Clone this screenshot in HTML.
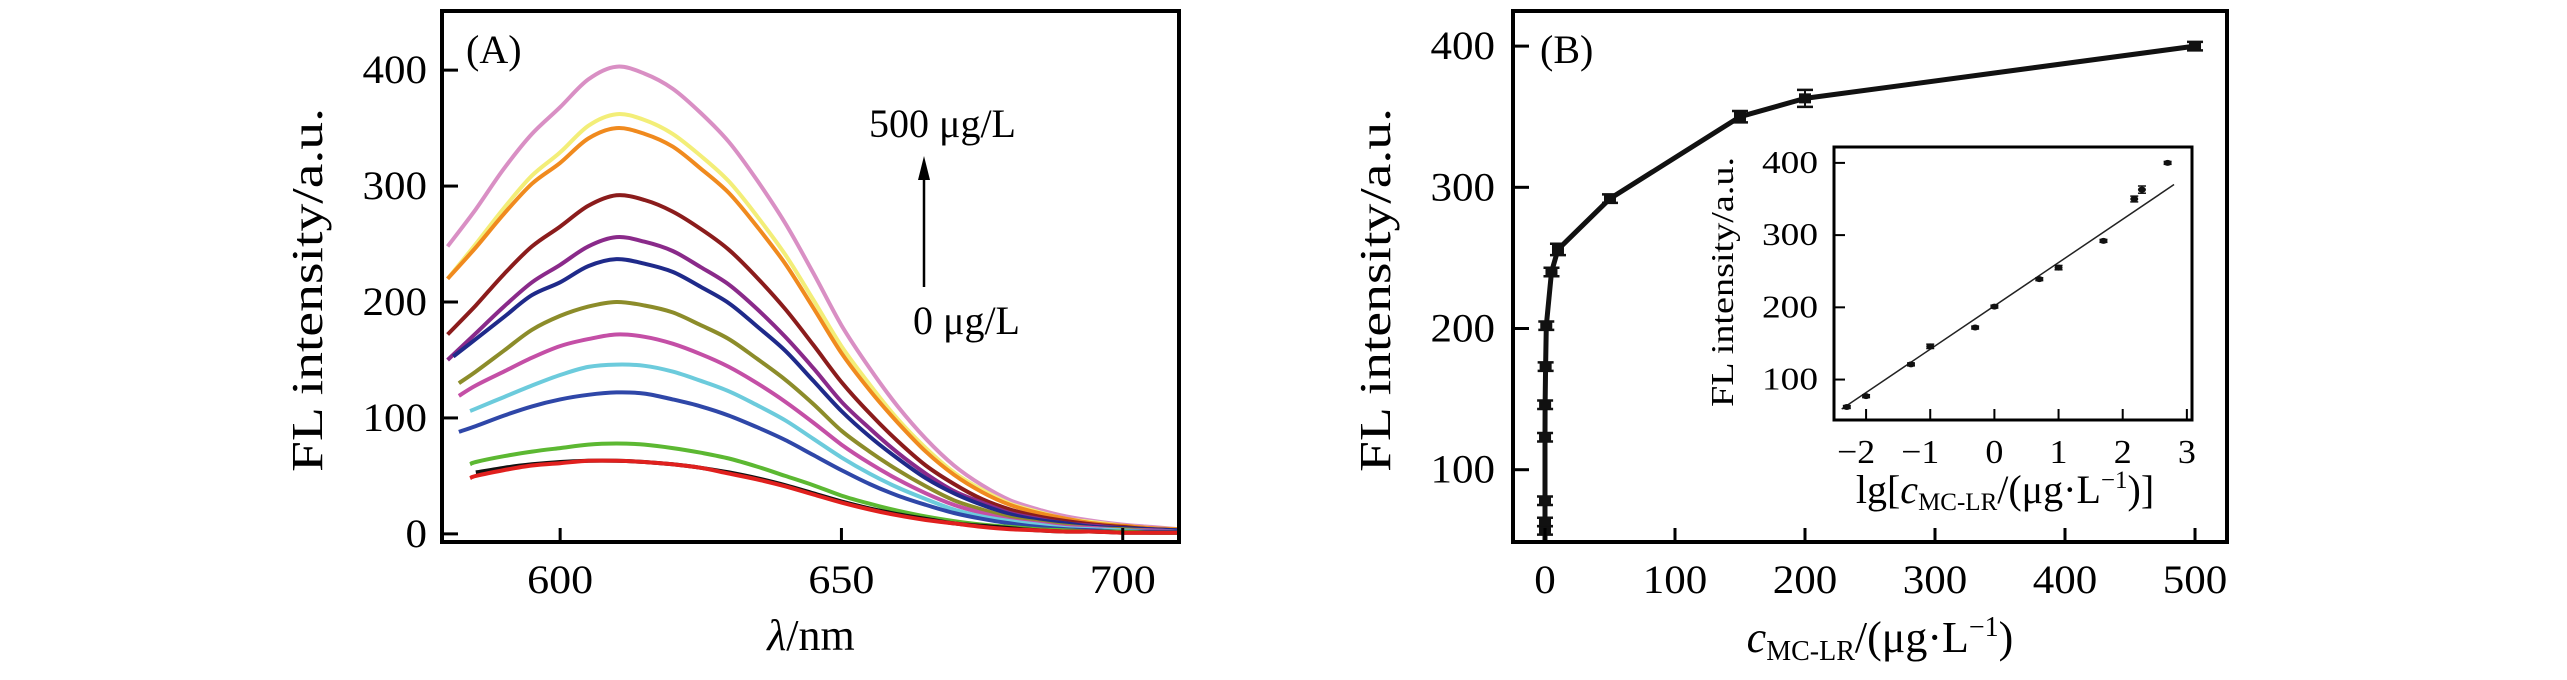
<!DOCTYPE html>
<html><head><meta charset="utf-8"><style>
html,body{margin:0;padding:0;background:#fff;}
svg{display:block;font-family:"Liberation Serif",serif;}
</style></head><body>
<svg id="chart" width="2567" height="680" viewBox="0 0 2567 680" xmlns="http://www.w3.org/2000/svg">
<rect width="2567" height="680" fill="#fff"/>
<g id="panelA"></g>
<g id="panelB"></g>
</svg>
<script>
// ---------- Panel A data ----------
const gridWaves = [585,590,595,600,605,610,615,620,625,630,635,640,645,650,655,660,665,670,675,680,685,690,695,700,705,710];
const curveNames = ["500","yellow","orange","brown","purple","navy","olive","magenta","cyan","blue","green","black","red"];
const curveColors = ["#d98fc4","#f3ee78","#f08a1e","#8b1c1c","#8a2a8a","#1f2a8a","#8c8c2a","#c44fa6","#6ccbdc","#2f47a8","#5cb832","#111111","#e0201e"];
const startWave = [580,580,580,580,580,581,582,582,584,582,584,585,584];
const startVal = [248,220,220,172,150,153,130,119,106,88,60,53,48];
const sPink = [280,315,345,368,392,403,397,384,363,338,305,268,225,180,143,110,82,59,42,29,21,15,11,8,6,4];
const sYellow = [250,281,309,329,352,362,357,345,326,304,274,241,202,162,129,99,74,53,38,26,19,13,10,7,5,4];
const sOrange = [247,276,302,320,341,350,345,334,315,294,265,233,195,156,124,96,71,51,36,25,18,13,9,7,5,4];
const sBrown = [197,224,248,265,283,292,288,278,263,245,221,194,163,131,104,80,59,43,30,21,15,11,8,6,4,3];
const sPurple = [173,196,217,232,248,256,252,244,230,215,194,170,143,114,91,70,52,37,27,18,13,9,7,5,4,3];
const sNavy = [168,187,206,217,231,237,233,226,213,199,179,158,132,106,84,65,48,35,25,17,12,9,6,5,4,3];
const sOlive = [140,158,176,188,196,200,197,191,180,168,151,133,112,89,71,55,41,29,21,14,10,7,5,4,3,2];
const sMagenta = [128,140,152,162,168,172,170,164,155,144,130,114,96,77,61,47,35,25,18,12,9,6,5,3,3,2];
const sCyan = [108,118,128,137,144,146,145,140,132,123,111,98,82,66,52,40,30,21,15,11,8,5,4,3,2,2];
const sBlue = [93,102,110,116,120,122,121,116,110,102,92,81,68,55,43,33,25,18,13,9,6,4,3,2,2,2];
const sGreen = [62,67,71,74,77,78,77,74,70,65,58,50,42,33,26,20,15,11,8,6,4,3,2,2,1,1];
const sBlack = [53,57,60,62,63,63,62,60,57,53,48,42,35,28,22,17,13,9,7,5,3,2,2,1,1,1];
const sRed = [50,55,59,61,63,63,62,60,57,52,47,41,34,27,21,16,12,9,6,4,3,2,2,1,1,1];
const seriesA = [sPink,sYellow,sOrange,sBrown,sPurple,sNavy,sOlive,sMagenta,sCyan,sBlue,sGreen,sBlack,sRed];
const ticksAX = [600,650,700];
const ticksAY = [0,100,200,300,400];

// ---------- Panel B data ----------
const concB = [0,0.005,0.01,0.05,0.1,0.5,1,5,10,50,150,200,500];
const flB = [57,63,78,123,146,173,202,240,256,292,350,363,400];
const errB = [3,3,3,3,3,3,3,3,4,3,4,6,3];
const ticksBX = [0,100,200,300,400,500];
const ticksBY = [100,200,300,400];
const logC = [-2.3,-2,-1.3,-1,-0.3,0,0.7,1,1.7,2.18,2.3,2.7];
const flInset = [62,77,121,146,172,201,239,255,292,350,363,400];
const errInset = [2,2,2,3,2,2,2,3,2,4,5,2];
const fitSlope = 60;
const fitIntercept = 202;
const fitRange = [-2.38,2.8];
const ticksIX = [-2,-1,0,1,2,3];
const ticksIY = [100,200,300,400];

const NS = "http://www.w3.org/2000/svg";
function mk(parent, tag, attrs, text){
  const e = document.createElementNS(NS, tag);
  for (const k in attrs) e.setAttribute(k, attrs[k]);
  if (text !== undefined) e.textContent = text;
  parent.appendChild(e);
  return e;
}
function lin(d0,d1,r0,r1){return v => r0 + (v-d0)/(d1-d0)*(r1-r0);}
function smoothPath(pts){
  let d = "M"+pts[0][0].toFixed(1)+","+pts[0][1].toFixed(1);
  for (let i=0;i<pts.length-1;i++){
    const p0 = pts[i>0?i-1:i], p1 = pts[i], p2 = pts[i+1], p3 = pts[i+2<pts.length?i+2:i+1];
    const c1x = p1[0]+(p2[0]-p0[0])/6, c1y = p1[1]+(p2[1]-p0[1])/6;
    const c2x = p2[0]-(p3[0]-p1[0])/6, c2y = p2[1]-(p3[1]-p1[1])/6;
    d += " C"+c1x.toFixed(1)+","+c1y.toFixed(1)+" "+c2x.toFixed(1)+","+c2y.toFixed(1)+" "+p2[0].toFixed(1)+","+p2[1].toFixed(1);
  }
  return d;
}

// ===== Panel A =====
const A = document.getElementById('panelA');
const ax = lin(579,710,442,1179);
const ay = lin(-7,451,542,11);
seriesA.forEach((s,i)=>{
  const pts = [[ax(startWave[i]), ay(startVal[i])]];
  s.forEach((v,j)=>{ if (gridWaves[j] > startWave[i]) pts.push([ax(gridWaves[j]), ay(v)]); });
  const p = mk(A,'path',{d:smoothPath(pts),fill:'none',stroke:curveColors[i],'stroke-width':4,'stroke-linejoin':'round'});
  
  
});
let fA = mk(A,'rect',{x:442,y:11,width:737,height:531,fill:'none',stroke:'#000','stroke-width':4});


ticksAX.forEach(t=>{
  const x = ax(t);
  const l = mk(A,'line',{x1:x,y1:542,x2:x,y2:528,stroke:'#000','stroke-width':3});
  
  
  const tx = mk(A,'text',{x:x,y:593,'font-size':40,'text-anchor':'middle',textLength:66,lengthAdjust:'spacingAndGlyphs'},String(t));
  
  
});
ticksAY.forEach(t=>{
  const y = ay(t);
  const l = mk(A,'line',{x1:442,y1:y,x2:458,y2:y,stroke:'#000','stroke-width':3});
  
  
  const s = String(t);
  const tx = mk(A,'text',{x:427,y:y+13,'font-size':40,'text-anchor':'end',textLength:s.length*21.5,lengthAdjust:'spacingAndGlyphs'},s);
  
  
});
let t;
t = mk(A,'text',{x:0,y:0,'font-size':44,'text-anchor':'middle',transform:'translate(322,290) rotate(-90)',textLength:364,lengthAdjust:'spacingAndGlyphs'},'FL intensity/a.u.');
 
t = mk(A,'text',{x:811,y:650,'font-size':44,'text-anchor':'middle'});
 
mk(t,'tspan',{'font-style':'italic'},'λ'); mk(t,'tspan',{},'/nm');
t = mk(A,'text',{x:466,y:63,'font-size':40},'(A)');
 
t = mk(A,'text',{x:869,y:137,'font-size':40},'500 μg/L');
 
t = mk(A,'text',{x:913,y:334,'font-size':40},'0 μg/L');
 
t = mk(A,'line',{x1:924,y1:287,x2:924,y2:172,stroke:'#000','stroke-width':2.5});
 
t = mk(A,'path',{d:'M924,156 L918,180 L930,180 Z',fill:'#000'});
 

// ===== Panel B =====
const B = document.getElementById('panelB');
const bx = lin(-24.6,524.6,1513,2227);
const by = lin(48.8,426,542,9.4);
let dB = "M"+bx(concB[0]).toFixed(1)+",542";
concB.forEach((c,i)=>{ dB += " L"+bx(c).toFixed(1)+","+by(flB[i]).toFixed(1); });
t = mk(B,'path',{d:dB,fill:'none',stroke:'#111','stroke-width':5,'stroke-linejoin':'round'});
 
concB.forEach((c,i)=>{
  const x = bx(c), y = by(flB[i]), e = errB[i]*1.413;
  const g = mk(B,'g',{});
  
  
  mk(g,'line',{x1:x,y1:y-e,x2:x,y2:y+e,stroke:'#111','stroke-width':2});
  mk(g,'line',{x1:x-8,y1:y-e,x2:x+8,y2:y-e,stroke:'#111','stroke-width':2.5});
  mk(g,'line',{x1:x-8,y1:y+e,x2:x+8,y2:y+e,stroke:'#111','stroke-width':2.5});
  mk(g,'rect',{x:x-6,y:y-5,width:12,height:10,fill:'#111'});
});
t = mk(B,'rect',{x:1513,y:11,width:714,height:531,fill:'none',stroke:'#000','stroke-width':4});
 
ticksBX.forEach(v=>{
  const x = bx(v);
  const l = mk(B,'line',{x1:x,y1:542,x2:x,y2:528,stroke:'#000','stroke-width':3});
   
  const s = String(v);
  const tx = mk(B,'text',{x:x,y:593,'font-size':40,'text-anchor':'middle',textLength:s.length*21.5,lengthAdjust:'spacingAndGlyphs'},s);
   
});
ticksBY.forEach(v=>{
  const y = by(v);
  const l = mk(B,'line',{x1:1513,y1:y,x2:1529,y2:y,stroke:'#000','stroke-width':3});
   
  const s = String(v);
  const tx = mk(B,'text',{x:1495,y:y+13,'font-size':40,'text-anchor':'end',textLength:s.length*21.5,lengthAdjust:'spacingAndGlyphs'},s);
   
});
t = mk(B,'text',{x:0,y:0,'font-size':44,'text-anchor':'middle',transform:'translate(1390,290) rotate(-90)',textLength:364,lengthAdjust:'spacingAndGlyphs'},'FL intensity/a.u.');
 
t = mk(B,'text',{x:1880,y:652,'font-size':44,'text-anchor':'middle'});
 
mk(t,'tspan',{'font-style':'italic'},'c'); mk(t,'tspan',{'font-size':28,dy:8},'MC-LR'); mk(t,'tspan',{dy:-8},'/(μg·L'); mk(t,'tspan',{'font-size':28,dy:-16},'−1'); mk(t,'tspan',{dy:16},')');
t = mk(B,'text',{x:1540,y:63,'font-size':40},'(B)');
 

// Inset
const ix = lin(-2.5,3.08,1834,2192);
const iy = lin(44,422,420,147);
const I = mk(B,'g',{});
 
t = mk(I,'rect',{x:1834,y:147,width:358,height:273,fill:'#fff',stroke:'#000','stroke-width':3});
 
t = mk(I,'line',{x1:ix(fitRange[0]),y1:iy(fitIntercept+fitSlope*fitRange[0]),x2:ix(fitRange[1]),y2:iy(fitIntercept+fitSlope*fitRange[1]),stroke:'#222','stroke-width':1.5});
 
logC.forEach((c,i)=>{
  const x = ix(c), y = iy(flInset[i]), e = errInset[i]*0.72;
  const g = mk(I,'g',{});
   
  mk(g,'line',{x1:x,y1:y-e,x2:x,y2:y+e,stroke:'#111','stroke-width':1.5});
  mk(g,'line',{x1:x-4,y1:y-e,x2:x+4,y2:y-e,stroke:'#111','stroke-width':1.5});
  mk(g,'line',{x1:x-4,y1:y+e,x2:x+4,y2:y+e,stroke:'#111','stroke-width':1.5});
  mk(g,'ellipse',{cx:x,cy:y,rx:4,ry:3,fill:'#111'});
});
ticksIX.forEach(v=>{
  const x = ix(v);
  const l = mk(I,'line',{x1:x,y1:420,x2:x,y2:409,stroke:'#000','stroke-width':2});
   
  const s = v<0 ? '−'+Math.abs(v) : String(v);
  const tx = mk(I,'text',{x:x-(v<0?10:0),y:463,'font-size':34,'text-anchor':'middle',textLength:v<0?38:18,lengthAdjust:'spacingAndGlyphs'},s);
   
});
ticksIY.forEach(v=>{
  const y = iy(v);
  const l = mk(I,'line',{x1:1834,y1:y,x2:1845,y2:y,stroke:'#000','stroke-width':2});
   
  const tx = mk(I,'text',{x:1818,y:y+10,'font-size':32,'text-anchor':'end',textLength:56,lengthAdjust:'spacingAndGlyphs'},String(v));
   
});
t = mk(I,'text',{x:0,y:0,'font-size':32,'text-anchor':'middle',transform:'translate(1733,282) rotate(-90)',textLength:250,lengthAdjust:'spacingAndGlyphs'},'FL intensity/a.u.');
 
t = mk(I,'text',{x:2005,y:503,'font-size':40,'text-anchor':'middle'});
 
mk(t,'tspan',{},'lg['); mk(t,'tspan',{'font-style':'italic'},'c'); mk(t,'tspan',{'font-size':25,dy:7},'MC-LR'); mk(t,'tspan',{dy:-7},'/(μg·L'); mk(t,'tspan',{'font-size':25,dy:-15},'−1'); mk(t,'tspan',{dy:15},')]');
</script>
</body></html>
